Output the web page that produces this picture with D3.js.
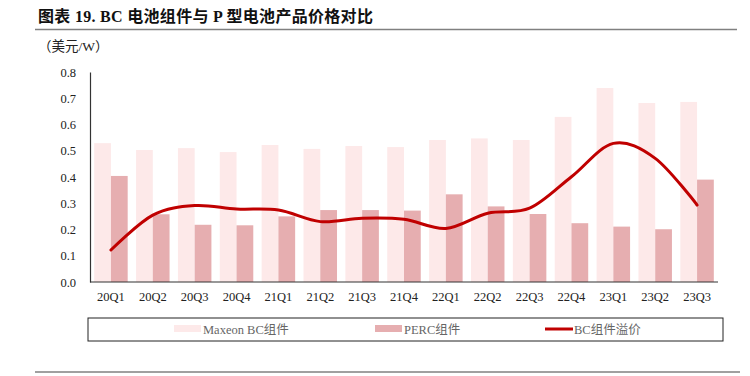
<!DOCTYPE html>
<html>
<head>
<meta charset="utf-8">
<script src="https://cdn.jsdelivr.net/npm/d3@7"></script>
<style>
  body { margin: 0; background: #fff; }
  svg { display: block; font-family: "Liberation Serif", "Times New Roman", "Noto Sans CJK SC", serif; }
</style>
</head>
<body>
<div id="chart"></div>
<script>
// quarters on the x axis
const quarters = ['20Q1', '20Q2', '20Q3', '20Q4', '21Q1', '21Q2', '21Q3', '21Q4',
    '22Q1', '22Q2', '22Q3', '22Q4', '23Q1', '23Q2', '23Q3'];

// Maxeon BC module price (USD/W)
const maxeonBC = [0.529, 0.503, 0.510, 0.495, 0.522, 0.507, 0.518, 0.514,
    0.541, 0.547, 0.541, 0.629, 0.739, 0.682, 0.686];

// PERC module price (USD/W)
const perc = [0.404, 0.258, 0.218, 0.216, 0.250, 0.274, 0.274, 0.272,
    0.334, 0.288, 0.259, 0.224, 0.211, 0.201, 0.390];

// BC premium (USD/W)
const premium = [0.122, 0.255, 0.291, 0.278, 0.274, 0.230, 0.243, 0.239,
    0.204, 0.262, 0.281, 0.401, 0.528, 0.471, 0.293];

const yTicks = [0, 0.1, 0.2, 0.3, 0.4, 0.5, 0.6, 0.7, 0.8];

const width = 750, height = 376;
const margin = { left: 90, right: 32, top: 72, bottom: 94 }; // plot 90..718, 72..282

const svg = d3.select('#chart').append('svg')
    .attr('width', width)
    .attr('height', height);

// title + rules
svg.append('text')
    .attr('x', 38)
    .attr('y', 22)
    .attr('font-size', 16)
    .attr('font-weight', 'bold')
    .attr('letter-spacing', 0.3)
    .attr('fill', '#111')
    .text('图表 19. BC 电池组件与 P 型电池产品价格对比');

svg.append('line')
    .attr('x1', 35).attr('x2', 737)
    .attr('y1', 29.5).attr('y2', 29.5)
    .attr('stroke', '#808080').attr('stroke-width', 1.5);

svg.append('line')
    .attr('x1', 35).attr('x2', 740)
    .attr('y1', 372).attr('y2', 372)
    .attr('stroke', '#808080').attr('stroke-width', 1.5);

svg.append('text')
    .attr('x', 38)
    .attr('y', 51)
    .attr('font-size', 13.5)
    .attr('fill', '#222')
    .text('（美元/W）');

const x = d3.scaleBand()
    .domain(quarters)
    .range([margin.left, width - margin.right])
    .paddingInner(0.2)
    .paddingOuter(0.1);

const y = d3.scaleLinear()
    .domain([0, 0.8])
    .range([height - margin.bottom, margin.top]);

const sub = d3.scaleBand()
    .domain(['maxeon', 'perc'])
    .range([0, x.bandwidth()]);

// bars
svg.append('g')
    .selectAll('rect')
    .data(maxeonBC)
    .join('rect')
    .attr('x', (d, i) => x(quarters[i]) + sub('maxeon'))
    .attr('y', d => y(d))
    .attr('width', sub.bandwidth())
    .attr('height', d => y(0) - y(d))
    .attr('fill', '#fde9e9');

svg.append('g')
    .selectAll('rect')
    .data(perc)
    .join('rect')
    .attr('x', (d, i) => x(quarters[i]) + sub('perc'))
    .attr('y', d => y(d))
    .attr('width', sub.bandwidth())
    .attr('height', d => y(0) - y(d))
    .attr('fill', '#e6aeb0');

// smoothed premium line
const line = d3.line()
    .x((d, i) => x(quarters[i]) + x.bandwidth() / 2)
    .y(d => y(d))
    .curve(d3.curveCardinal.tension(0));

svg.append('path')
    .datum(premium)
    .attr('d', line)
    .attr('fill', 'none')
    .attr('stroke', '#c00000')
    .attr('stroke-width', 3)
    .attr('stroke-linecap', 'round');

// axes
const yAxis = svg.append('g')
    .attr('transform', `translate(${margin.left},0)`)
    .call(d3.axisLeft(y).tickValues(yTicks).tickFormat(d3.format('.1f')).tickSize(0).tickPadding(14));

const xAxis = svg.append('g')
    .attr('transform', `translate(0,${height - margin.bottom})`)
    .call(d3.axisBottom(x).tickSize(0).tickPadding(10));

[xAxis, yAxis].forEach(g => {
    g.select('.domain').attr('stroke', '#333').attr('stroke-width', 1.2);
    g.selectAll('text')
        .attr('font-family', '"Liberation Serif", "Times New Roman", serif')
        .attr('font-size', 12.5)
        .attr('fill', '#222');
});
xAxis.select('.domain').attr('d', `M${margin.left},0H${width - margin.right}`);

// legend
const legend = svg.append('g');
legend.append('rect')
    .attr('x', 88).attr('y', 318)
    .attr('width', 635).attr('height', 23)
    .attr('fill', '#fff')
    .attr('stroke', '#222')
    .attr('stroke-width', 1);

const legendItems = [
    { label: 'Maxeon BC组件', type: 'bar', color: '#fde9e9', x: 174 },
    { label: 'PERC组件', type: 'bar', color: '#e6aeb0', x: 375 },
    { label: 'BC组件溢价', type: 'line', color: '#c00000', x: 545 }
];

legendItems.forEach(item => {
    if (item.type === 'bar') {
        legend.append('rect')
            .attr('x', item.x).attr('y', 325)
            .attr('width', 27).attr('height', 7)
            .attr('fill', item.color);
    } else {
        legend.append('line')
            .attr('x1', item.x).attr('x2', item.x + 28)
            .attr('y1', 329).attr('y2', 329)
            .attr('stroke', item.color)
            .attr('stroke-width', 3);
    }
    legend.append('text')
        .attr('x', item.x + 29)
        .attr('y', 333.5)
        .attr('font-size', 12.5)
        .attr('fill', '#666')
        .text(item.label);
});
</script>
</body>
</html>
